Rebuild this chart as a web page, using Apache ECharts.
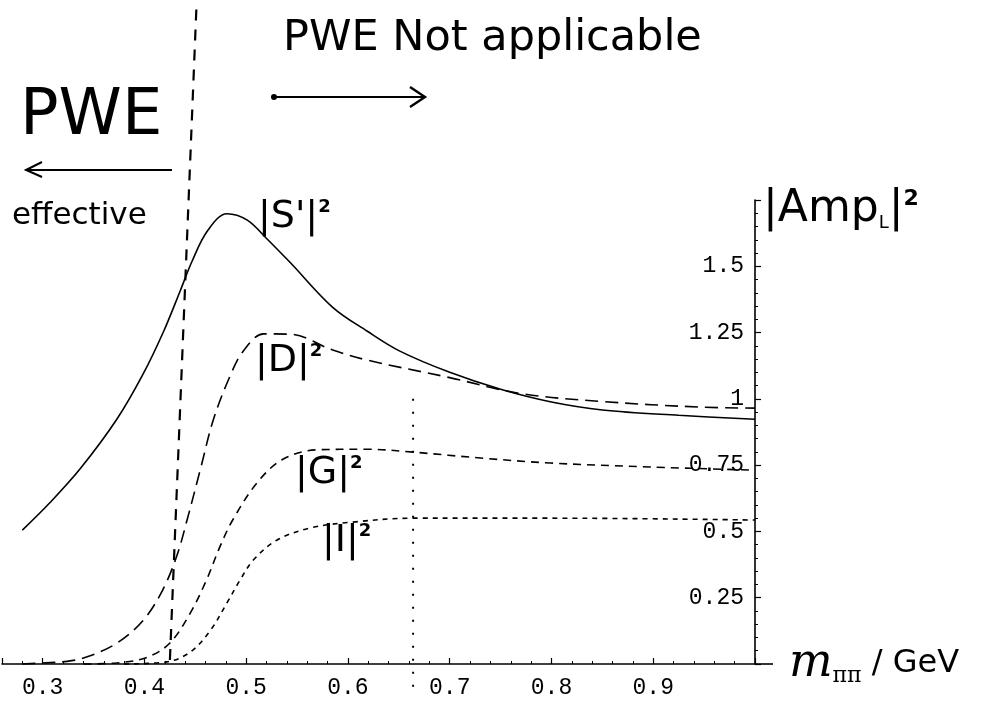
<!DOCTYPE html>
<html>
<head>
<meta charset="utf-8">
<script src="https://cdn.jsdelivr.net/npm/echarts@6/dist/echarts.min.js"></script>
<style>
  html, body { margin: 0; padding: 0; background: #fff; }
  #main { width: 986px; height: 719px; }
</style>
</head>
<body>
<div id="main"></div>
<script>
// |S'|^2 (solid)
var sX = [0.280, 0.307, 0.337, 0.373, 0.399, 0.419, 0.435, 0.447, 0.462, 0.481, 0.501, 0.520, 0.543, 0.585, 0.619, 0.651, 0.700, 0.750, 0.800, 0.850, 0.925, 1.000];
var sY = [0.505, 0.608, 0.737, 0.924, 1.096, 1.256, 1.406, 1.521, 1.634, 1.698, 1.674, 1.605, 1.515, 1.345, 1.255, 1.180, 1.100, 1.036, 0.988, 0.958, 0.938, 0.923];
// |D|^2 (long dashes)
var dX = [0.280, 0.300, 0.324, 0.343, 0.373, 0.399, 0.418, 0.432, 0.442, 0.455, 0.468, 0.484, 0.497, 0.517, 0.543, 0.585, 0.619, 0.700, 0.770, 0.850, 0.946, 1.000];
var dY = [0.000, 0.004, 0.010, 0.026, 0.079, 0.166, 0.280, 0.410, 0.545, 0.735, 0.925, 1.085, 1.180, 1.245, 1.244, 1.184, 1.146, 1.080, 1.020, 0.990, 0.969, 0.965];
// |G|^2 (medium dashes)
var gX = [0.340, 0.373, 0.403, 0.425, 0.445, 0.461, 0.474, 0.487, 0.511, 0.536, 0.570, 0.619, 0.664, 0.733, 0.799, 0.897, 1.000];
var gY = [0.000, 0.004, 0.026, 0.079, 0.192, 0.317, 0.441, 0.545, 0.685, 0.772, 0.808, 0.810, 0.799, 0.776, 0.758, 0.743, 0.731];
// |I|^2 (short dashes)
var iX = [0.380, 0.422, 0.445, 0.465, 0.481, 0.494, 0.507, 0.530, 0.563, 0.604, 0.664, 0.799, 1.000];
var iY = [0.000, 0.008, 0.045, 0.128, 0.230, 0.317, 0.392, 0.467, 0.513, 0.535, 0.550, 0.550, 0.543];
// hand drawn guide lines
var edgeX = [0.425, 0.451];
var edgeY = [0.015, 2.47];
var dotX = [0.664, 0.664];
var dotY = [1.0, -0.12];

var xTicks = [0.3, 0.4, 0.5, 0.6, 0.7, 0.8, 0.9];
var yTicks = [0.25, 0.5, 0.75, 1, 1.25, 1.5];

function pairs(xs, ys) {
  return xs.map(function (x, i) { return [x, ys[i]]; });
}

var chartDom = document.getElementById('main');
var myChart = echarts.init(chartDom);
var black = '#000';
var mono = 'Liberation Mono';
var hand = 'DejaVu Sans';

function curve(name, xs, ys, dash, w) {
  return {
    name: name,
    type: 'line',
    data: pairs(xs, ys),
    showSymbol: false,
    smooth: 0.35,
    clip: false,
    silent: true,
    lineStyle: { color: black, width: w || 1.6, type: dash }
  };
}

function curveLabel(left, top, txt) {
  return {
    type: 'text', left: left, top: top,
    style: {
      text: txt,
      rich: {
        a: { fontFamily: hand, fontSize: 38, fill: black },
        p: { fontFamily: hand, fontSize: 18, fontWeight: 'bold', fill: black, verticalAlign: 'top' }
      }
    }
  };
}

var option = {
  backgroundColor: '#fff',
  animation: false,
  grid: { left: 2, right: 231, top: 200, bottom: 55 },
  xAxis: {
    type: 'value',
    min: 0.26,
    max: 1.0,
    splitNumber: 7,
    minInterval: 0.1,
    maxInterval: 0.1,
    axisLine: { onZero: false, lineStyle: { color: black, width: 1.6 } },
    axisTick: { inside: true, length: 6, lineStyle: { color: black, width: 1.2 } },
    minorTick: { show: true, splitNumber: 5, length: 3, lineStyle: { color: black, width: 1 } },
    splitLine: { show: false },
    axisLabel: {
      color: black, fontFamily: mono, fontSize: 23, margin: 12,
      showMinLabel: false,
      formatter: function (v) {
        var hit = xTicks.some(function (t) { return Math.abs(t - v) < 1e-6; });
        return hit ? v.toFixed(1) : '';
      }
    },
    name: '{m|m}{s|ππ}{a| / GeV}',
    nameLocation: 'end',
    nameGap: 34,
    nameTextStyle: {
      rich: {
        m: { fontFamily: 'DejaVu Serif', fontStyle: 'italic', fontSize: 46, color: black },
        s: { fontFamily: 'DejaVu Serif', fontSize: 22, color: black, verticalAlign: 'bottom' },
        a: { fontFamily: hand, fontSize: 32, color: black }
      }
    }
  },
  yAxis: {
    type: 'value',
    position: 'right',
    min: 0,
    max: 1.75,
    interval: 0.25,
    axisLine: { show: true, onZero: false, lineStyle: { color: black, width: 1.6 } },
    axisTick: { show: true, length: 6, lineStyle: { color: black, width: 1.2 } },
    minorTick: { show: true, splitNumber: 5, length: 3, lineStyle: { color: black, width: 1 } },
    splitLine: { show: false },
    axisLabel: {
      inside: true, color: black, fontFamily: mono, fontSize: 23, margin: 11,
      formatter: function (v) {
        var hit = yTicks.some(function (t) { return Math.abs(t - v) < 1e-6; });
        return hit ? String(+v.toFixed(2)) : '';
      }
    },
    name: '{a||Amp}{s|L}{a||}{p|2}',
    nameLocation: 'end',
    nameGap: -32,
    nameTextStyle: {
      align: 'left',
      verticalAlign: 'bottom',
      padding: [0, 0, 0, 8],
      rich: {
        a: { fontFamily: hand, fontSize: 44, color: black },
        s: { fontFamily: hand, fontSize: 18, color: black, verticalAlign: 'bottom' },
        p: { fontFamily: hand, fontSize: 22, fontWeight: 'bold', color: black, verticalAlign: 'top' }
      }
    }
  },
  series: [
    curve("|S'|²", sX, sY, 'solid', 1.6),
    curve('|D|²', dX, dY, [13, 7], 1.6),
    curve('|G|²', gX, gY, [8, 6], 1.6),
    curve('|I|²', iX, iY, [5, 5], 1.6),
    {
      type: 'line', data: pairs(edgeX, edgeY), showSymbol: false, clip: false, silent: true,
      lineStyle: { color: black, width: 2.2, type: [11, 9] }
    },
    {
      type: 'line', data: pairs(dotX, dotY), showSymbol: false, clip: false, silent: true,
      lineStyle: { color: black, width: 2, type: [2, 11] }
    }
  ],
  graphic: [
    { type: 'text', left: 283, top: 17, style: { text: 'PWE Not applicable', fontFamily: hand, fontSize: 43, fill: black } },
    { type: 'text', left: 20, top: 85, style: { text: 'PWE', fontFamily: hand, fontSize: 64, fill: black } },
    { type: 'text', left: 12, top: 200, style: { text: 'effective', fontFamily: hand, fontSize: 31, fill: black } },
    // arrows
    { type: 'polyline', shape: { points: [[172, 170], [26, 170]] }, style: { stroke: black, lineWidth: 2 } },
    { type: 'polyline', shape: { points: [[42, 162], [26, 170], [42, 177]] }, style: { stroke: black, lineWidth: 2, fill: null } },
    { type: 'polyline', shape: { points: [[274, 97], [424, 97]] }, style: { stroke: black, lineWidth: 2 } },
    { type: 'polyline', shape: { points: [[410, 87], [425, 97], [410, 107]] }, style: { stroke: black, lineWidth: 2.4, fill: null } },
    { type: 'circle', shape: { cx: 274, cy: 97, r: 3 }, style: { fill: black } },
    // x axis runs a little past the vertical axis
    { type: 'line', shape: { x1: 755, y1: 664, x2: 773, y2: 664 }, style: { stroke: black, lineWidth: 1.6 } },
    // curve labels
    curveLabel(258, 198, "{a||S'|}{p|2}"),
    curveLabel(255, 342, '{a||D|}{p|2}'),
    curveLabel(295, 454, '{a||G|}{p|2}'),
    curveLabel(322, 522, '{a||I|}{p|2}')
  ]
};

myChart.setOption(option);
</script>
</body>
</html>
